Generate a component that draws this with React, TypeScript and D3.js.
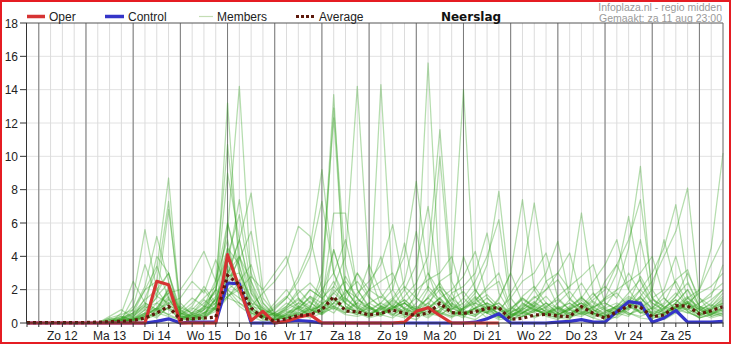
import React from 'react';
import * as d3 from 'd3';

const dayLabels = ['Zo 12', 'Ma 13', 'Di 14', 'Wo 15', 'Do 16', 'Vr 17', 'Za 18', 'Zo 19', 'Ma 20', 'Di 21', 'Wo 22', 'Do 23', 'Vr 24', 'Za 25'];
const yTicks = [0, 2, 4, 6, 8, 10, 12, 14, 16, 18];

// Oper run (ends around Di 21)
const oper = [
  0, 0, 0, 0, 0, 0, 0, 0, 0, 0,
  0, 2.5, 2.3, 0, 0, 0, 0, 4.1, 2.1, 0.15,
  0.7, 0, 0.1, 0.35, 0.5, 0, 0, 0, 0, 0,
  0, 0, 0.05, 0.7, 0.92, 0.45, 0, 0, 0, 0,
  0,
];

const control = [
  0, 0, 0, 0, 0, 0, 0, 0, 0, 0,
  0, 0.1, 0.25, 0, 0.05, 0.05, 0.05, 2.4, 2.35, 0,
  0, 0, 0.1, 0.15, 0.1, 0, 0, 0, 0, 0,
  0, 0, 0, 0, 0, 0, 0, 0, 0.05, 0.25,
  0.55, 0, 0, 0, 0, 0.05, 0.1, 0.2, 0.05, 0.05,
  0.68, 1.28, 1.18, 0.05, 0.3, 0.75, 0.05, 0.05, 0.05, 0.1,
];

const average = [
  0.02, 0.02, 0.02, 0.02, 0.02, 0.03, 0.05, 0.08, 0.1, 0.15,
  0.3, 0.6, 1.0, 0.2, 0.25, 0.3, 0.35, 2.85, 2.3, 0.9,
  0.3, 0.12, 0.25, 0.45, 0.5, 0.8, 1.58, 0.72, 0.68, 0.48,
  0.58, 0.78, 0.58, 0.45, 0.6, 1.18, 0.62, 0.58, 0.68, 0.88,
  0.92, 0.22, 0.28, 0.48, 0.52, 0.42, 0.38, 0.98, 0.58, 0.28,
  0.68, 1.02, 0.94, 0.38, 0.48, 1.04, 1.02, 0.54, 0.74, 0.98,
];

const members = [
  [0, 0, 0, 0, 0, 0, 0, 0.1, 0.2, 0.5, 1.2, 0.8, 2.0, 0.3, 0.1, 0.4, 1.5, 13.2, 3.0, 0.8, 0.2, 0.1, 0.5, 1.2, 0.9, 2.5, 13.7, 1.0, 0.6, 0.3, 0.5, 1.1, 0.4, 0.2, 0.8, 1.5, 0.6, 0.3, 1.2, 0.9, 0.4, 0.1, 0.6, 1.0, 0.5, 0.3, 0.2, 1.4, 0.6, 0.2, 0.8, 1.5, 0.9, 0.3, 0.4, 1.2, 2.0, 0.5, 0.7, 1.1],
  [0, 0, 0, 0, 0, 0, 0, 0, 0.1, 0.2, 0.6, 1.8, 3.0, 0.2, 0.5, 0.8, 2.0, 5.5, 14.2, 2.5, 0.5, 0.2, 0.3, 0.8, 1.6, 0.9, 1.2, 2.8, 1.5, 0.7, 14.3, 2.0, 0.8, 0.4, 1.0, 0.6, 0.3, 0.9, 1.5, 0.6, 0.2, 0.3, 1.2, 0.8, 0.5, 0.9, 0.4, 0.6, 0.3, 0.1, 0.4, 0.9, 1.6, 0.5, 0.2, 0.6, 0.9, 0.3, 0.5, 0.8],
  [0, 0, 0, 0, 0, 0, 0, 0.2, 0.1, 0.3, 1.5, 3.2, 8.7, 0.6, 0.2, 0.3, 1.0, 4.5, 2.2, 0.4, 0.1, 0.3, 0.9, 1.5, 0.6, 1.8, 12.9, 3.5, 0.8, 0.5, 0.9, 0.4, 1.2, 0.6, 0.3, 0.8, 1.5, 0.4, 0.2, 0.7, 1.0, 0.2, 0.4, 0.7, 1.2, 0.6, 0.3, 0.9, 0.5, 0.4, 1.1, 0.6, 0.3, 0.2, 0.9, 1.4, 0.7, 0.3, 0.6, 0.4],
  [0, 0, 0, 0, 0, 0, 0, 0, 0.3, 0.6, 2.0, 2.5, 7.3, 0.4, 0.3, 0.6, 0.9, 6.0, 3.4, 1.0, 0.3, 0.2, 0.4, 0.6, 0.9, 3.0, 12.3, 2.0, 1.0, 0.4, 0.6, 1.0, 0.5, 1.8, 15.6, 2.2, 0.6, 0.5, 0.9, 0.3, 0.5, 0.4, 0.8, 0.3, 0.6, 1.0, 0.5, 0.4, 0.8, 0.3, 0.6, 0.4, 1.2, 0.5, 0.3, 0.9, 1.3, 0.6, 0.3, 0.5],
  [0, 0, 0, 0, 0, 0, 0, 0.1, 0.4, 0.2, 0.8, 1.5, 6.8, 1.2, 0.5, 0.2, 2.5, 10.7, 4.0, 1.2, 0.4, 0.6, 0.3, 1.0, 2.0, 1.5, 2.2, 4.0, 14.2, 3.0, 1.0, 0.5, 0.3, 0.8, 1.2, 0.5, 0.9, 0.6, 0.4, 1.0, 0.3, 0.6, 1.5, 0.9, 0.4, 0.2, 0.8, 1.2, 0.6, 0.3, 0.5, 1.0, 0.7, 0.4, 0.6, 1.0, 0.8, 0.5, 0.9, 1.2],
  [0, 0, 0, 0, 0, 0, 0, 0, 0.2, 1.5, 5.6, 2.0, 1.0, 0.3, 0.6, 1.2, 1.8, 9.0, 5.0, 2.0, 0.8, 0.3, 0.6, 0.9, 0.4, 1.2, 1.5, 0.8, 0.5, 1.0, 0.6, 1.4, 0.9, 0.5, 1.0, 2.5, 3.0, 14.0, 1.5, 0.8, 0.4, 0.2, 0.6, 1.1, 0.7, 0.4, 0.3, 0.6, 1.0, 0.5, 0.3, 0.8, 1.3, 0.6, 0.4, 0.7, 1.5, 0.9, 0.4, 0.6],
  [0, 0, 0, 0, 0, 0, 0, 0.3, 0.5, 0.8, 2.2, 5.2, 2.5, 0.5, 0.2, 0.8, 1.4, 3.5, 7.4, 3.0, 1.2, 0.4, 0.2, 0.7, 1.3, 0.6, 2.0, 1.2, 0.7, 0.4, 1.0, 0.8, 1.6, 2.4, 4.0, 11.6, 2.5, 1.0, 1.8, 3.5, 7.9, 1.5, 0.6, 0.4, 0.8, 0.5, 0.9, 0.6, 0.3, 0.7, 1.0, 0.5, 0.8, 0.4, 0.6, 1.2, 0.7, 0.3, 0.5, 0.9],
  [0, 0, 0, 0, 0, 0, 0, 0.1, 0.1, 0.4, 1.0, 4.0, 3.0, 0.8, 0.4, 0.6, 1.0, 2.8, 5.0, 7.8, 2.0, 0.5, 0.3, 0.5, 0.8, 1.0, 0.6, 1.5, 0.9, 0.6, 0.4, 0.9, 1.2, 0.7, 2.0, 10.0, 1.8, 0.6, 0.9, 1.2, 0.5, 0.3, 0.9, 0.6, 1.0, 1.4, 0.8, 0.5, 0.7, 1.0, 2.0, 4.5, 9.4, 1.5, 0.6, 0.9, 1.2, 0.4, 0.8, 1.5],
  [0, 0, 0, 0, 0, 0, 0, 0, 0.3, 1.0, 3.5, 1.6, 1.2, 0.4, 0.8, 1.5, 2.2, 4.0, 6.5, 2.2, 0.6, 0.8, 1.5, 2.8, 4.5, 9.2, 3.0, 1.0, 0.6, 0.9, 0.5, 0.3, 0.8, 1.0, 0.6, 0.4, 1.1, 0.7, 0.5, 0.9, 1.2, 0.6, 0.4, 0.8, 0.5, 0.3, 0.6, 1.0, 0.8, 0.4, 0.7, 1.2, 0.6, 0.9, 1.5, 0.8, 1.0, 2.0, 4.5, 10.2],
  [0, 0, 0, 0, 0, 0, 0, 0, 0, 0.2, 0.5, 0.9, 1.8, 2.0, 3.0, 4.3, 2.5, 6.0, 3.0, 1.5, 0.6, 0.2, 0.5, 0.4, 0.9, 0.6, 1.4, 0.8, 1.8, 2.5, 3.5, 5.9, 2.0, 0.8, 0.5, 1.0, 0.7, 0.4, 0.9, 0.6, 1.5, 3.0, 7.4, 2.0, 0.8, 0.5, 0.9, 1.2, 0.6, 0.4, 0.8, 1.0, 1.6, 2.5, 4.0, 5.5, 8.1, 1.5, 0.6, 0.9],
  [0, 0, 0, 0, 0, 0, 0, 0.2, 0.4, 0.1, 0.3, 0.6, 2.2, 0.5, 1.0, 2.2, 1.2, 3.0, 5.0, 1.8, 0.9, 0.4, 1.0, 2.0, 1.2, 0.8, 4.4, 2.0, 1.0, 0.6, 0.8, 1.2, 0.6, 0.4, 0.9, 1.5, 0.8, 1.2, 2.0, 1.0, 0.6, 1.8, 3.0, 7.2, 2.5, 1.0, 0.6, 0.9, 1.4, 2.0, 3.5, 5.0, 7.4, 2.0, 0.9, 0.6, 1.2, 0.8, 0.5, 1.0],
  [0, 0, 0, 0, 0, 0, 0, 0, 0.1, 0.2, 0.4, 1.2, 0.8, 0.3, 0.6, 0.9, 2.0, 4.5, 3.5, 0.9, 0.4, 1.0, 1.6, 0.9, 0.5, 1.2, 6.6, 6.6, 2.0, 1.0, 0.6, 0.9, 1.4, 0.8, 0.5, 0.7, 1.2, 0.6, 0.9, 1.5, 0.8, 0.4, 0.9, 1.5, 2.0, 3.0, 2.0, 6.6, 1.8, 0.8, 0.5, 1.0, 2.0, 3.0, 4.5, 7.1, 2.5, 1.0, 0.6, 0.8],
  [0, 0, 0, 0, 0, 0, 0, 0, 0.2, 0.5, 1.0, 0.6, 1.5, 0.4, 0.2, 0.5, 1.5, 3.0, 4.0, 2.5, 1.0, 0.5, 0.8, 1.2, 2.0, 1.5, 0.9, 0.6, 1.2, 2.0, 1.5, 2.5, 4.0, 8.5, 3.0, 1.0, 0.8, 1.5, 2.5, 4.0, 6.2, 1.0, 0.5, 0.8, 0.6, 0.9, 1.2, 0.7, 0.5, 1.5, 3.0, 6.4, 2.5, 1.0, 0.6, 0.9, 1.5, 2.0, 3.5, 5.0],
  [0, 0, 0, 0, 0, 0, 0, 0, 0, 0.1, 0.2, 0.8, 1.6, 0.6, 0.3, 0.8, 1.2, 2.5, 3.8, 5.5, 1.5, 0.6, 0.4, 0.9, 1.5, 0.8, 1.8, 2.5, 1.5, 0.8, 1.2, 2.0, 4.8, 1.5, 0.9, 0.6, 1.8, 2.2, 3.0, 5.4, 1.8, 0.6, 1.0, 2.0, 3.0, 4.9, 1.5, 0.8, 0.5, 0.9, 1.2, 0.8, 1.5, 0.9, 1.8, 2.5, 1.2, 0.6, 1.0, 1.6],
  [0, 0, 0, 0, 0, 0, 0, 0.1, 0, 0.3, 0.6, 0.3, 1.0, 0.8, 1.5, 1.0, 0.8, 2.0, 1.5, 1.0, 1.8, 2.5, 3.5, 5.8, 5.2, 2.0, 1.0, 0.7, 0.5, 1.2, 0.8, 0.5, 0.9, 1.5, 1.0, 0.6, 0.4, 0.9, 1.2, 0.7, 0.4, 0.8, 1.5, 1.0, 2.5, 3.0, 4.2, 1.5, 0.9, 0.6, 1.0, 1.6, 1.2, 2.0, 5.0, 2.2, 1.0, 0.7, 1.2, 2.0],
  [0, 0, 0, 0, 0, 0, 0, 0, 0.2, 0.1, 0.4, 0.9, 0.5, 1.0, 0.6, 0.4, 1.0, 3.5, 2.0, 0.6, 0.3, 0.9, 1.5, 2.5, 4.0, 7.3, 3.0, 1.5, 0.8, 2.0, 4.0, 1.5, 0.8, 0.6, 1.2, 2.0, 1.0, 0.6, 0.4, 0.9, 1.2, 0.5, 0.8, 1.2, 0.9, 0.5, 0.8, 1.5, 2.5, 3.5, 5.0, 2.0, 1.0, 0.5, 0.8, 1.2, 2.0, 1.0, 0.6, 1.2],
  [0, 0, 0, 0, 0, 0, 0, 0.2, 0.3, 0.6, 1.4, 2.0, 3.0, 0.6, 0.4, 0.2, 0.9, 2.2, 4.0, 1.8, 0.5, 0.3, 0.8, 0.6, 0.5, 0.9, 1.5, 0.8, 1.2, 0.9, 0.6, 1.0, 2.0, 3.5, 7.0, 2.0, 1.0, 0.8, 0.5, 1.2, 0.9, 0.5, 0.6, 1.0, 1.6, 0.8, 0.4, 1.0, 1.8, 0.9, 0.6, 1.2, 2.8, 1.5, 2.0, 4.0, 1.5, 0.8, 0.4, 0.6],
  [0, 0, 0, 0, 0, 0, 0, 0, 0.6, 2.5, 1.2, 0.8, 0.5, 0.2, 0.5, 1.0, 2.0, 1.5, 2.5, 3.5, 1.2, 0.5, 0.3, 0.6, 1.0, 2.0, 3.0, 5.0, 2.0, 0.9, 0.5, 0.8, 1.2, 0.6, 0.9, 1.5, 2.0, 2.8, 4.3, 1.5, 0.8, 0.4, 0.6, 0.9, 0.5, 0.8, 1.2, 0.6, 0.9, 1.5, 2.0, 2.5, 3.0, 4.0, 1.5, 0.8, 1.2, 0.6, 0.9, 1.4],
  [0, 0, 0, 0, 0, 0, 0, 0.1, 0.3, 0.2, 0.5, 0.8, 1.2, 1.5, 2.5, 1.8, 3.8, 2.0, 1.2, 0.8, 0.4, 0.2, 0.6, 1.0, 0.8, 0.5, 1.2, 1.8, 2.5, 1.5, 1.0, 1.5, 2.5, 5.5, 2.0, 1.2, 0.7, 0.5, 0.9, 1.2, 0.8, 1.5, 2.5, 3.0, 4.2, 1.5, 0.8, 0.5, 1.0, 1.2, 0.8, 0.5, 0.9, 1.4, 1.0, 0.7, 1.2, 1.8, 2.2, 3.0],
  [0, 0, 0, 0, 0, 0, 0, 0, 0.1, 0.4, 0.9, 1.2, 1.8, 0.4, 0.2, 0.6, 1.2, 2.8, 3.0, 1.4, 0.6, 0.4, 0.9, 1.4, 1.0, 0.7, 2.2, 1.4, 0.9, 0.5, 0.8, 1.3, 0.9, 0.6, 1.6, 2.4, 1.2, 0.8, 1.4, 2.0, 2.5, 0.7, 0.9, 1.6, 1.0, 0.6, 1.4, 2.4, 1.2, 0.7, 1.0, 1.8, 2.6, 1.2, 0.8, 1.6, 2.4, 1.0, 0.8, 1.2],
  [0, 0, 0, 0, 0, 0, 0, 0.4, 0.8, 0.3, 0.2, 0.5, 1.2, 0.9, 0.6, 1.4, 0.8, 1.6, 2.2, 1.0, 0.8, 0.5, 0.2, 0.4, 0.7, 1.1, 1.8, 1.2, 0.6, 0.4, 1.0, 0.7, 0.5, 1.2, 2.2, 1.4, 0.6, 0.9, 1.6, 1.1, 0.5, 0.3, 0.8, 1.3, 0.6, 0.4, 0.9, 1.6, 0.8, 0.5, 0.9, 1.4, 0.6, 0.4, 1.1, 1.8, 1.0, 0.5, 0.8, 1.3],
  [0, 0, 0, 0, 0, 0, 0, 0, 0.2, 0.6, 1.1, 0.7, 0.9, 0.2, 0.4, 0.9, 1.6, 3.2, 2.0, 0.6, 0.3, 0.6, 1.2, 0.8, 0.5, 0.8, 1.0, 0.6, 1.4, 1.0, 0.5, 0.9, 1.4, 0.7, 0.4, 0.8, 1.4, 1.9, 1.0, 0.6, 0.9, 0.5, 0.4, 0.7, 1.2, 0.9, 0.6, 0.8, 1.3, 0.8, 0.5, 0.9, 1.5, 0.8, 0.5, 1.0, 1.6, 0.9, 0.5, 0.7],
  [0, 0, 0, 0, 0, 0, 0, 0.1, 0.2, 0.1, 0.5, 1.6, 2.4, 0.7, 0.3, 0.5, 0.8, 2.4, 1.8, 0.9, 0.5, 0.2, 0.5, 0.9, 1.6, 1.2, 0.8, 2.0, 1.1, 0.7, 1.2, 0.8, 0.6, 0.9, 1.5, 0.9, 0.5, 0.8, 1.2, 1.7, 1.0, 0.6, 1.1, 0.8, 0.5, 1.2, 1.9, 1.0, 0.6, 0.4, 0.8, 1.2, 0.9, 0.6, 0.9, 1.4, 0.8, 1.2, 1.8, 2.4],
  [0, 0, 0, 0, 0, 0, 0, 0, 0, 0.2, 0.6, 0.4, 0.9, 0.5, 0.9, 0.6, 1.4, 2.0, 2.6, 1.2, 0.9, 0.4, 0.7, 0.5, 0.3, 0.6, 1.2, 0.9, 0.7, 1.2, 1.6, 1.0, 0.7, 0.4, 0.9, 1.3, 0.9, 0.5, 0.7, 1.0, 0.6, 0.9, 1.4, 1.0, 0.7, 0.5, 0.8, 1.2, 0.9, 1.4, 1.8, 1.0, 0.6, 0.9, 0.6, 0.9, 1.3, 0.8, 1.1, 0.7],
  [0, 0, 0, 0, 0, 0, 0, 0.3, 0.1, 0.2, 0.3, 0.6, 0.4, 0.2, 0.2, 0.4, 0.7, 1.5, 1.2, 0.6, 0.4, 0.2, 0.3, 0.5, 0.8, 0.6, 0.9, 0.5, 0.4, 0.6, 0.9, 0.6, 0.4, 0.6, 0.9, 0.7, 0.4, 0.5, 0.8, 0.6, 0.3, 0.5, 0.7, 0.4, 0.6, 0.9, 0.5, 0.7, 0.4, 0.6, 0.9, 0.6, 0.4, 0.7, 0.5, 0.8, 0.6, 0.4, 0.7, 0.5],
  [0, 0, 0, 0, 0, 0, 0, 0, 0.1, 0.3, 0.8, 0.5, 1.4, 0.6, 1.2, 2.0, 1.0, 1.8, 1.0, 0.5, 0.3, 0.6, 1.0, 1.8, 2.4, 1.6, 4.4, 2.0, 1.5, 3.5, 1.8, 0.9, 1.2, 2.0, 2.6, 3.0, 4.0, 1.5, 0.8, 0.6, 1.4, 3.0, 1.2, 0.7, 0.9, 1.6, 2.2, 2.8, 3.5, 1.2, 0.8, 1.3, 2.0, 1.2, 0.7, 1.0, 0.6, 0.9, 1.4, 2.0],
  [0, 0, 0, 0, 0, 0, 0, 0, 0.2, 0.8, 2.0, 3.4, 1.5, 0.3, 0.5, 0.3, 0.9, 1.6, 2.0, 2.8, 2.0, 3.0, 4.0, 1.5, 0.8, 0.5, 1.0, 1.6, 3.0, 1.6, 0.9, 1.4, 2.2, 1.5, 3.0, 1.8, 1.0, 4.0, 2.0, 1.0, 0.5, 0.8, 1.6, 2.2, 1.2, 0.6, 1.0, 1.5, 1.0, 2.5, 3.5, 2.0, 5.0, 1.5, 0.9, 1.6, 3.0, 1.5, 1.0, 1.8],
  [0, 0, 0, 0, 0, 0, 0, 0, 0.1, 0.1, 0.4, 0.9, 2.0, 0.8, 0.3, 1.0, 2.6, 5.0, 1.5, 0.7, 0.4, 1.2, 2.0, 1.0, 0.6, 1.4, 2.5, 1.2, 3.0, 2.0, 2.5, 3.0, 1.2, 0.8, 1.5, 2.2, 1.5, 0.9, 1.3, 2.2, 3.0, 0.9, 0.6, 1.2, 2.0, 2.6, 1.4, 0.9, 1.6, 2.2, 1.5, 3.0, 1.8, 0.8, 1.2, 2.6, 3.2, 1.2, 1.6, 3.5],
];

const start = new Date(2018, 7, 11, 18);
const end = new Date(2018, 7, 26, 12);

const FONT = '"Liberation Sans", Arial, sans-serif';

export default function App() {
  const times = d3.timeHour.every(6)!.range(start, d3.timeHour.offset(end, 1));
  const x = d3.scaleTime().domain([start, end]).range([27, 723]);
  const y = d3.scaleLinear().domain([0, 18]).range([323, 23]);
  const line = d3
    .line<number>()
    .x((_, i) => x(times[i]))
    .y((v) => y(v));
  const days = d3.timeDay.range(new Date(2018, 7, 12), end);
  const noons = days.slice(0, dayLabels.length).map((d) => d3.timeHour.offset(d, 12));

  const memberColor = 'rgb(50,160,30)';
  const avgColor = '#5e1a0c';

  return (
    <svg
      width={732}
      height={345}
      style={{ position: 'absolute', left: 0, top: 0, background: '#fff' }}
      fontFamily={FONT}
    >
      <rect x={0} y={0} width={732} height={345} fill="#fff" />
      {/* horizontal grid */}
      {yTicks.slice(1, -1).map((t) => (
        <line key={'h' + t} x1={27} x2={723} y1={y(t)} y2={y(t)} stroke="#e2e2e2" strokeWidth={1} />
      ))}
      {/* 6-hour grid */}
      {times.slice(1).map((t, i) => (
        <line key={'v' + i} x1={x(t)} x2={x(t)} y1={23} y2={323} stroke="#dcdcdc" strokeWidth={1} />
      ))}
      {/* day grid */}
      {days.map((d, i) => (
        <line key={'d' + i} x1={x(d)} x2={x(d)} y1={23} y2={323} stroke="#7a7a7a" strokeWidth={1} />
      ))}

      {/* members */}
      <g fill="none" stroke={memberColor} strokeOpacity={0.36} strokeWidth={1.25} strokeLinejoin="round">
        {members.map((m, i) => (
          <path key={'m' + i} d={line(m) || ''} />
        ))}
      </g>

      {/* control */}
      <path d={line(control) || ''} fill="none" stroke="#3535c8" strokeWidth={3.2} strokeLinejoin="round" />
      {/* oper */}
      <path d={line(oper) || ''} fill="none" stroke="#d63333" strokeWidth={3.2} strokeLinejoin="round" />
      {/* average */}
      <path
        d={line(average) || ''}
        fill="none"
        stroke={avgColor}
        strokeWidth={3.2}
        strokeDasharray="3 3"
      />

      {/* frame */}
      <line x1={27} x2={723} y1={23} y2={23} stroke="#555" strokeWidth={1} />
      <line x1={723} x2={723} y1={23} y2={323} stroke="#777" strokeWidth={1} />
      <line x1={26.5} x2={26.5} y1={23} y2={323} stroke="#333" strokeWidth={1} />
      <line x1={26} x2={723.5} y1={323} y2={323} stroke="#333" strokeWidth={1.2} />

      {/* y ticks & labels */}
      {yTicks.map((t) => (
        <g key={'yt' + t}>
          <line x1={20} x2={27} y1={y(t)} y2={y(t)} stroke="#333" strokeWidth={1} />
          <text x={18} y={y(t) + 4.5} textAnchor="end" fontSize={12} fill="#222">
            {t}
          </text>
        </g>
      ))}
      {/* x ticks */}
      {times.map((t, i) => (
        <line key={'xt' + i} x1={x(t)} x2={x(t)} y1={323} y2={327} stroke="#333" strokeWidth={1} />
      ))}
      {noons.map((t, i) => (
        <text key={'xl' + i} x={x(t)} y={340} textAnchor="middle" fontSize={12} fill="#222">
          {dayLabels[i]}
        </text>
      ))}

      {/* legend */}
      <line x1={27} x2={45} y1={16.5} y2={16.5} stroke="#d63333" strokeWidth={3.5} />
      <text x={49} y={21} fontSize={12} fill="#222">Oper</text>
      <line x1={105} x2={124} y1={16.5} y2={16.5} stroke="#3535c8" strokeWidth={3.5} />
      <text x={128} y={21} fontSize={12} fill="#222">Control</text>
      <line x1={199} x2={213} y1={16.5} y2={16.5} stroke="#c4ddb4" strokeWidth={1.2} />
      <text x={217} y={21} fontSize={12} fill="#222">Members</text>
      <line x1={296} x2={314} y1={16.5} y2={16.5} stroke={avgColor} strokeWidth={3.2} strokeDasharray="3 2" />
      <text x={319} y={21} fontSize={12} fill="#222">Average</text>

      {/* title */}
      <text x={471} y={21} textAnchor="middle" fontSize={12} fontWeight="bold" fontFamily='"DejaVu Sans", Verdana, sans-serif' fill="#111">
        Neerslag
      </text>
      <text x={722} y={10.5} textAnchor="end" fontSize={10.5} fill="#9a9a9a">
        Infoplaza.nl - regio midden
      </text>
      <text x={722} y={22} textAnchor="end" fontSize={10.5} fill="#9a9a9a">
        Gemaakt: za 11 aug 23:00
      </text>

      {/* outer red border */}
      <rect x={1} y={1} width={729} height={342} fill="none" stroke="#e51c23" strokeWidth={2} />
    </svg>
  );
}
